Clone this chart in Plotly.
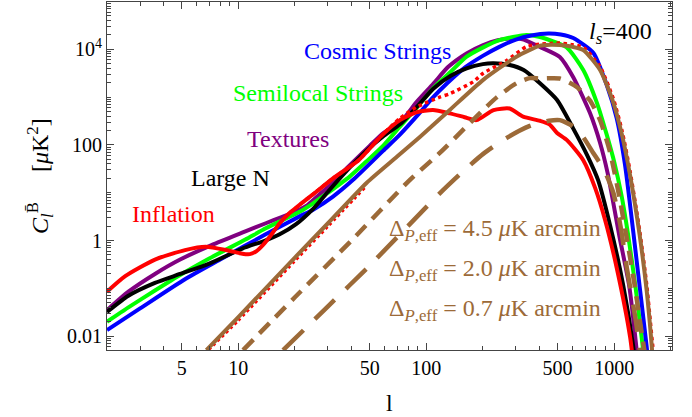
import numpy as np
import plotly.graph_objects as go

# ---------------- data ----------------
l_infl = [2, 2.5, 3.6, 5.2, 6.7, 8.8, 10.5, 11.5, 12.5, 13.5, 14.7, 16.6, 18.8, 21.2, 26, 31.9, 43.5, 57.7,
          72.4, 88.5, 108.6, 133.5, 160, 185, 228, 278, 328, 403, 453, 497, 561, 685, 793, 895, 1032,
          1216, 1300]
C_infl = [0.085, 0.18, 0.4, 0.63, 0.74, 0.62, 0.53, 0.52, 0.6, 0.8, 1.2, 2.3, 3.8, 5.6, 10.5, 20, 47, 155,
          330, 480, 537, 458, 380, 330, 537, 577, 390, 320, 270, 178, 126, 48, 12.5, 2.7, 0.27,
          0.0096, 0.001]

l_lens = [18.8, 21.2, 26, 31.9, 43.5, 57.7, 72.4, 89, 118, 133.5, 178, 201, 267, 341, 400, 460, 514, 600,
          685, 842, 988, 1101, 1216, 1367, 1490, 1600, 1660]
C_lens = [3.8, 5.6, 10.5, 20, 47, 155, 360, 620, 1000, 1180, 2100, 3160, 5800, 11300, 12800, 13300, 13500, 12500,
          11000, 4300, 950, 200, 28, 1.6, 0.12, 0.007, 0.002]

l_lens_lo = [6.6, 10, 20, 30, 48]
C_lens_lo = [0.0042, 0.021, 0.37, 1.95, 13.6]

l_cs = [2, 3, 5.2, 8, 13.9, 21.2, 25, 31.9, 40.8, 58.9, 72, 91, 109, 130, 161, 200, 242, 300, 362, 446,
        520, 606, 776, 914, 1032, 1143, 1260, 1367, 1490, 1560]
C_cs = [0.0134, 0.038, 0.155, 0.40, 1.33, 3.2, 4.4, 8.3, 18.6, 75, 160, 440, 1000, 2000, 4200, 7300, 11000,
        16000, 19500, 21500, 20500, 17300, 8400, 1780, 360, 38, 1.7, 0.11, 0.006, 0.001]

l_sl = [2, 2.6, 3.6, 4.9, 7, 10.9, 14, 21.2, 25, 30, 39, 48, 58.9, 72, 89, 109, 135, 164, 201, 246, 341,
        403, 557, 685, 810, 914, 1004, 1094, 1181, 1300, 1420, 1480]
C_sl = [0.02, 0.04, 0.09, 0.19, 0.42, 1.05, 1.8, 4.0, 6.0, 10, 21.5, 45, 95, 235, 600, 1550, 3400, 7000,
        11000, 15600, 20000, 18100, 11100, 3700, 760, 162, 42, 8.9, 1.5, 0.105, 0.006, 0.001]

l_tex = [2, 2.6, 3.6, 4.9, 7.2, 10.9, 14, 17, 20, 23, 27, 30, 38.5, 50, 58.9, 72.4, 89, 109, 131, 164, 201,
         240, 290, 330, 403, 514, 606, 744, 842, 923, 1068, 1204, 1312, 1370]
C_tex = [0.035, 0.085, 0.2, 0.4, 0.8, 1.55, 2.3, 3.1, 4.0, 5.3, 9.2, 13, 35, 95, 175, 290, 800, 1900, 4300,
         8200, 12300, 15500, 17000, 16000, 11200, 6900, 2600, 465, 110, 26, 1.2, 0.11, 0.006, 0.001]

l_ln = [2, 2.6, 3.6, 4.9, 7, 10.5, 13.9, 16.6, 20.3, 25, 30, 39, 48, 58.9, 72.4, 89, 109, 135, 164, 200,
        228, 278, 330, 403, 497, 604, 717, 821, 951, 1116, 1260, 1330]
C_ln = [0.032, 0.07, 0.13, 0.2, 0.33, 0.68, 1.0, 1.35, 2.2, 4.6, 10.5, 33, 75, 150, 270, 620, 1500, 2800, 4000,
        4900, 5100, 4700, 3700, 1950, 870, 225, 62, 18.5, 2.1, 0.12, 0.0066, 0.001]

# noise curves
l_n45 = [6.76, 10, 20, 30, 48.1, 70, 92.5, 133.5, 201, 302, 400, 460, 514, 600, 685, 842, 988,
         1101, 1216, 1367, 1490, 1587, 1640]
C_n45 = [0.0051, 0.025, 0.44, 2.3, 16, 57, 147, 540, 2300, 7000, 11800, 12500, 12300, 11300, 9700,
         3700, 790, 162, 23, 1.3, 0.09, 0.006, 0.001]

l_n20 = [10.6, 20, 40, 81.9, 118, 164, 201, 238, 302, 356, 403, 514, 630, 744, 842, 951, 1051, 1160, 1280,
         1410, 1480]
C_n20 = [0.0051, 0.065, 1.0, 18.6, 68, 245, 540, 1000, 1950, 2500, 2450, 2450, 1650, 850, 330, 71, 11, 1.3,
         0.13, 0.01, 0.003]

l_n07 = [17.3, 30, 50, 100, 118, 157, 201, 268, 356, 450, 514, 600, 685, 776, 885, 990, 1079, 1170, 1300,
         1370]
C_n07 = [0.0051, 0.042, 0.30, 5, 9.7, 28, 65, 140, 250, 320, 330, 250, 145, 67, 30, 10, 2.1, 0.26, 0.023,
         0.005]

x_tickvals = [5, 10, 50, 100, 500, 1000]
x_ticktext = ["5", "10", "50", "100", "500", "1000"]
y_tickvals = [0.01, 1, 100, 10000]
y_ticktext = ["0.01", "1", "100", "10<sup>4</sup>"]

RED, GREEN, BLUE, PURPLE, BLACK, BROWN = "#FF0000", "#00FF00", "#0000FF", "#800080", "#000000", "#9C6A38"
FONT = '"Liberation Serif", "Times New Roman", "DejaVu Serif", serif'

fig = go.Figure()


def add(l, c, color, width, dash="solid", smooth=0.6):
    fig.add_trace(go.Scatter(x=l, y=c, mode="lines", showlegend=False, hoverinfo="skip",
                             line=dict(color=color, width=width, dash=dash, shape="spline", smoothing=smooth)))


add(l_tex, C_tex, PURPLE, 4)
add(l_sl, C_sl, GREEN, 4)
add(l_cs, C_cs, BLUE, 4)
add(l_ln, C_ln, BLACK, 4)
add(l_infl, C_infl, RED, 4)
add(l_lens, C_lens, RED, 3.5, "dot")
add(l_lens_lo, C_lens_lo, RED, 2.5, "dot")
add(l_n45, C_n45, BROWN, 4)
add(l_n20, C_n20, BROWN, 4.5, "14px,9px")
add(l_n07, C_n07, BROWN, 4.5, "28px,16px")

# minor ticks
xminor = [m * 10 ** e for e in range(0, 4) for m in range(2, 10)]
xminor = [v for v in xminor if 2 <= v <= 2030 and v not in x_tickvals]
yminor = [m * 10.0 ** e for e in range(-3, 5) for m in range(1, 10)]
yminor = [v for v in yminor if 0.005 <= v <= 98000 and not any(abs(v - t) / t < 1e-9 for t in y_tickvals)]

axcol = "#444444"
common = dict(type="log", showgrid=False, zeroline=False, showline=True, linecolor=axcol, linewidth=1,
              mirror="allticks", ticks="inside", ticklen=7, tickwidth=1, tickcolor=axcol,
              tickfont=dict(family=FONT, size=20, color="black"))

fig.update_layout(
    width=692, height=417,
    margin=dict(l=107, r=20, t=2, b=67),
    paper_bgcolor="white", plot_bgcolor="white",
    font=dict(family=FONT),
    xaxis=dict(range=[np.log10(2), 3.308], tickvals=x_tickvals, ticktext=x_ticktext,
               minor=dict(tickvals=xminor, ticks="inside", ticklen=4, tickcolor=axcol, showgrid=False),
               **common),
    yaxis=dict(range=[-2.29, 4.99], tickvals=y_tickvals, ticktext=y_ticktext,
               minor=dict(tickvals=yminor, ticks="inside", ticklen=4, tickcolor=axcol, showgrid=False),
               **common),
)


def px(x, y):
    return (x - 107) / 565.0, (350 - y) / 348.0


def label(text, x, y, color, size=24, xanchor="center", angle=0):
    xp, yp = px(x, y)
    fig.add_annotation(text=text, x=xp, y=yp, xref="paper", yref="paper", showarrow=False,
                       xanchor=xanchor, yanchor="middle", textangle=angle,
                       font=dict(family=FONT, size=size, color=color))


label("Cosmic Strings", 377, 51, BLUE)
label("Semilocal Strings", 318, 93, GREEN)
label("Textures", 288, 139, PURPLE)
label("Large N", 230, 178, BLACK)
label("Inflation", 173, 214, RED)
label("<i>l</i><sub><i>s</i></sub>=400", 620, 33, BLACK)
label("Δ<sub><i>P</i>,eff</sub> = 4.5 <i>μ</i>K arcmin", 387, 230, BROWN, xanchor="left")
label("Δ<sub><i>P</i>,eff</sub> = 2.0 <i>μ</i>K arcmin", 387, 270, BROWN, xanchor="left")
label("Δ<sub><i>P</i>,eff</sub> = 0.7 <i>μ</i>K arcmin", 387, 310, BROWN, xanchor="left")
label("l", 389, 403, BLACK)
label("<i>C</i><sub><i>l</i></sub><sup>B\u0304</sup>     [<i>μ</i>K<sup>2</sup>]", 40, 176, BLACK, angle=-90)

fig.write_html("out.html")
